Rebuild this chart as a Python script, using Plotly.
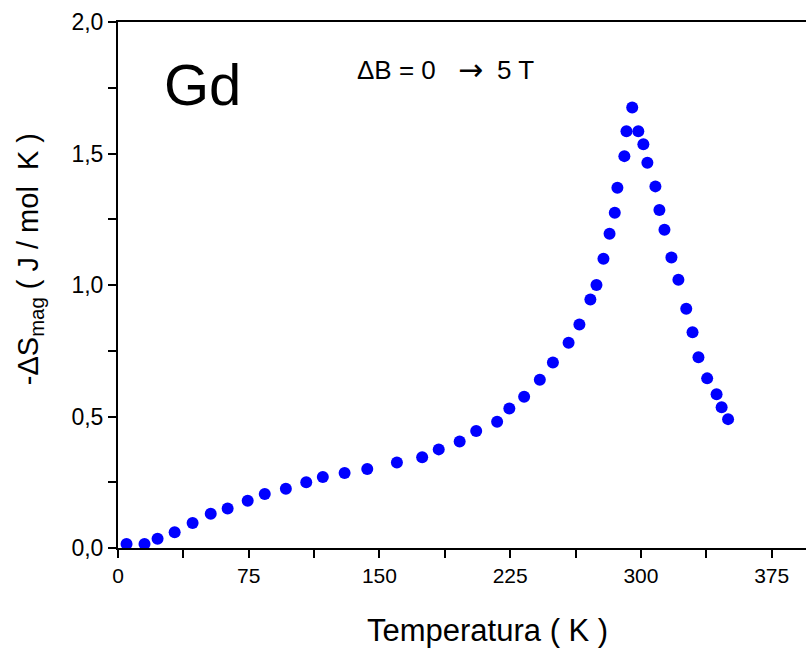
import plotly.graph_objects as go

temperature = [4.9, 15.2, 22.7, 32.5, 42.8, 53.2, 62.9, 74.4, 84.2, 96.3, 108.0, 117.5,
               130.0, 143.0, 160.0, 174.5, 184.0, 196.0, 205.5, 217.5, 224.5, 233.0,
               242.0, 249.5, 258.5, 264.7, 271.0, 274.5, 278.5, 282.0, 285.0, 286.5,
               290.5, 291.7, 295.0, 298.5, 301.4, 303.7, 308.3, 310.6, 313.5, 317.5,
               321.5, 326.0, 329.6, 333.0, 338.0, 343.4, 346.3, 350.0]
delta_s = [0.015, 0.015, 0.035, 0.06, 0.095, 0.13, 0.15, 0.18, 0.205, 0.225, 0.25, 0.27,
           0.285, 0.30, 0.325, 0.345, 0.375, 0.405, 0.445, 0.48, 0.53, 0.575,
           0.64, 0.705, 0.78, 0.85, 0.945, 1.0, 1.10, 1.195, 1.275, 1.37,
           1.49, 1.585, 1.675, 1.585, 1.535, 1.465, 1.375, 1.285, 1.21, 1.105,
           1.02, 0.91, 0.82, 0.725, 0.645, 0.585, 0.535, 0.49]

x_ticks = [0, 75, 150, 225, 300, 375]
y_ticks = [0.0, 0.5, 1.0, 1.5, 2.0]

font = "Liberation Sans, Arial, sans-serif"

fig = go.Figure()
fig.add_trace(go.Scatter(
    x=temperature, y=delta_s, mode="markers",
    marker=dict(color="#0000FF", size=12, line=dict(width=0)),
    showlegend=False,
))

fig.update_layout(
    width=806, height=648,
    margin=dict(l=118, r=0, t=22, b=100),
    paper_bgcolor="white", plot_bgcolor="white",
    separators=",.",
    font=dict(family=font, color="black"),
)

fig.update_xaxes(
    range=[0, 394.7], tickvals=x_ticks, ticktext=[str(v) for v in x_ticks],
    showgrid=False, zeroline=False,
    showline=True, linecolor="black", linewidth=2, mirror=True,
    ticks="outside", ticklen=8, tickwidth=1.5, tickcolor="black",
    tickfont=dict(size=21, family=font),
    minor=dict(dtick=37.5, tick0=0, ticks="outside", ticklen=8, tickwidth=1.5,
               tickcolor="black", showgrid=False),
)
fig.update_yaxes(
    range=[0, 2.0], tickvals=y_ticks, tickformat=".1f",
    showgrid=False, zeroline=False,
    showline=True, linecolor="black", linewidth=2, mirror=False,
    ticks="outside", ticklen=8, tickwidth=1.5, tickcolor="black",
    tickfont=dict(size=23, family=font),
    minor=dict(dtick=0.25, tick0=0, ticks="outside", ticklen=8, tickwidth=1.5,
               tickcolor="black", showgrid=False),
)

# axis titles
fig.add_annotation(
    text="Temperatura ( K )", xref="paper", yref="paper", x=0.537, y=-0.156,
    xanchor="center", yanchor="middle", showarrow=False,
    font=dict(size=31, family=font, color="black"),
)
fig.add_annotation(
    text="-ΔS<sub>mag</sub> ( J / mol  K )", xref="paper", yref="paper", x=-0.128, y=0.549,
    xanchor="center", yanchor="middle", showarrow=False, textangle=-90,
    font=dict(size=29, family=font, color="black"),
)

fig.add_annotation(
    text="Gd", xref="paper", yref="paper", x=0.064, y=0.882,
    xanchor="left", yanchor="middle", showarrow=False,
    font=dict(size=58, family=font, color="black"),
)
fig.add_annotation(
    text="ΔB = 0", xref="paper", yref="paper", x=0.344, y=0.909,
    xanchor="left", yanchor="middle", showarrow=False,
    font=dict(size=26, family=font, color="black"),
)
fig.add_annotation(
    text="\u2192", xref="paper", yref="paper", x=0.512, y=0.909,
    xanchor="center", yanchor="middle", showarrow=False,
    font=dict(size=30, family="DejaVu Sans", color="black"),
)
fig.add_annotation(
    text="5 T", xref="paper", yref="paper", x=0.548, y=0.909,
    xanchor="left", yanchor="middle", showarrow=False,
    font=dict(size=26, family=font, color="black"),
)

fig.write_html("out.html")
